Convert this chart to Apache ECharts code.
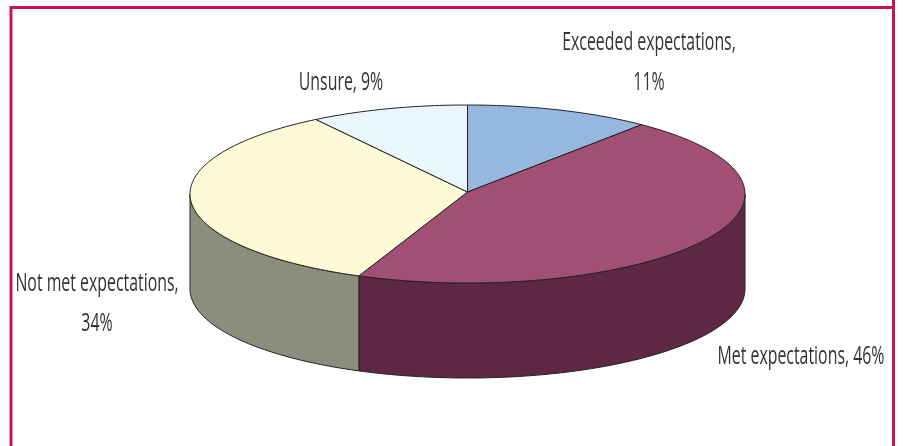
<!DOCTYPE html>
<html><head><meta charset="utf-8">
<style>html,body{margin:0;padding:0;background:#fff}#c{width:903px;height:446px}</style>
<script src="https://cdn.jsdelivr.net/npm/echarts@6/dist/echarts.min.js"></script>
</head><body><div id="c"></div>
<script>
const categories = ['Exceeded expectations', 'Met expectations', 'Not met expectations', 'Unsure'];
const values = [10.8, 45.6, 34.4, 9.2];
const topColors = ['#95B7E0', '#A15074', '#FFFAD6', '#EAF6FE'];
const sideColors = ['#6B87A8', '#5E2845', '#8C8E7D', '#AAB4BC'];

const CX = 467.5, CY = 194, RX = 277.5, RY = 89, DEPTH = 95;
const total = values.reduce((a, b) => a + b, 0);
const pt = (deg, dy) => {
  const r = deg * Math.PI / 180;
  return [CX + RX * Math.sin(r), CY + dy - RY * Math.cos(r)];
};
const sliceRange = i => {
  let s = 0;
  for (let k = 0; k < i; k++) s += values[k];
  return [s / total * 360, (s + values[i]) / total * 360];
};
const arc = (a, b, dy) => {
  const out = [], n = Math.max(2, Math.ceil(Math.abs(b - a)));
  for (let k = 0; k <= n; k++) out.push(pt(a + (b - a) * k / n, dy));
  return out;
};
const lineStyle = { stroke: '#222', lineWidth: 1 };

function renderSide(params, api) {
  const i = params.dataIndex;
  const [a0, a1] = sliceRange(i);
  const a = Math.max(a0, 90), b = Math.min(a1, 270);
  if (b <= a) return { type: 'group', children: [] };
  const points = arc(a, b, 0).concat(arc(b, a, DEPTH));
  return { type: 'polygon', shape: { points }, style: Object.assign({ fill: sideColors[i] }, lineStyle) };
}
function renderTop(params, api) {
  const i = params.dataIndex;
  const [a0, a1] = sliceRange(i);
  const points = [[CX, CY - 2]].concat(arc(a0, a1, 0));
  return { type: 'polygon', shape: { points }, style: Object.assign({ fill: topColors[i] }, lineStyle) };
}
const labelSpots = [
  { x: 649, y: 43, wrap: true },
  { x: 801, y: 357, wrap: false },
  { x: 97, y: 284, wrap: true },
  { x: 341, y: 83, wrap: false }
];
function renderLabel(params, api) {
  const i = params.dataIndex, s = labelSpots[i];
  const pct = Math.round(values[i]) + '%';
  const lines = s.wrap ? [categories[i] + ',', pct] : [categories[i] + ', ' + pct];
  return {
    type: 'group',
    children: lines.map((t, k) => ({
      type: 'text', x: s.x, y: s.y + k * 40, scaleX: 0.635,
      style: { text: t, fill: '#333', font: '25px "Open Sans"', textAlign: 'center', textVerticalAlign: 'middle' }
    }))
  };
}
const chart = echarts.init(document.getElementById('c'), null, { renderer: 'canvas' });
chart.setOption({
  animation: false,
  backgroundColor: '#fff',
  graphic: [{
    type: 'polyline', z: 10, silent: true,
    shape: { points: [[11, 446], [11, 7.5], [893.5, 7.5]] },
    style: { stroke: '#C9124F', lineWidth: 3, fill: null }
  }, {
    type: 'line', z: 10, silent: true,
    shape: { x1: 893.5, y1: 0, x2: 893.5, y2: 446 },
    style: { stroke: '#C9124F', lineWidth: 3 }
  }],
  series: [
    { type: 'custom', coordinateSystem: 'none', z: 1, silent: true, renderItem: renderSide, data: values },
    { type: 'custom', coordinateSystem: 'none', z: 2, silent: true, renderItem: renderTop, data: values },
    { type: 'custom', coordinateSystem: 'none', z: 3, silent: true, renderItem: renderLabel, data: values }
  ]
});
</script></body></html>
